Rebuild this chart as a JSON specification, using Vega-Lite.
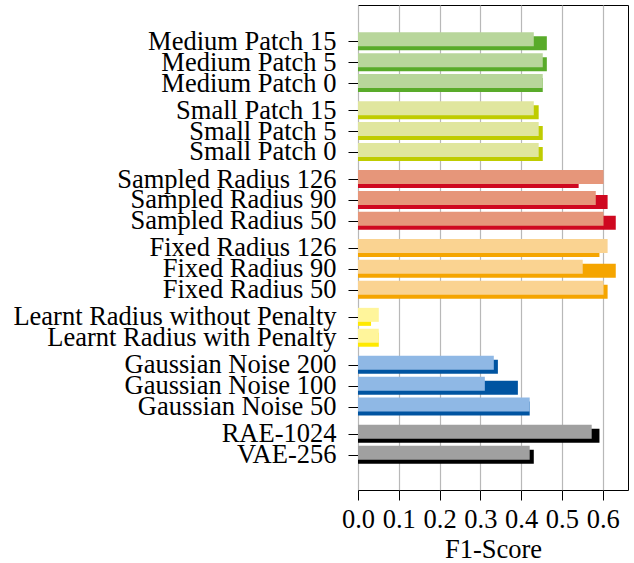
{
  "$schema": "https://vega.github.io/schema/vega-lite/v6.json",
  "autosize": {"type": "none"},
  "padding": {"left": 358, "top": 5, "right": 6, "bottom": 73},
  "width": 270,
  "height": 485,
  "background": "white",
  "config": {
    "view": {"stroke": "black", "strokeWidth": 1},
    "font": "Liberation Serif",
    "axis": {"labelFont": "Liberation Serif", "titleFont": "Liberation Serif", "labelColor": "black", "titleColor": "black", "tickColor": "black", "domainColor": "black"}
  },
  "data": {
    "values": [
      {"name": "Medium Patch 15", "pos": 19.8, "group": "Medium Patch", "v1": 0.431, "v2": 0.463},
      {"name": "Medium Patch 5", "pos": 18.8, "group": "Medium Patch", "v1": 0.453, "v2": 0.463},
      {"name": "Medium Patch 0", "pos": 17.8, "group": "Medium Patch", "v1": 0.453, "v2": 0.453},
      {"name": "Small Patch 15", "pos": 16.5, "group": "Small Patch", "v1": 0.431, "v2": 0.443},
      {"name": "Small Patch 5", "pos": 15.5, "group": "Small Patch", "v1": 0.443, "v2": 0.453},
      {"name": "Small Patch 0", "pos": 14.5, "group": "Small Patch", "v1": 0.443, "v2": 0.453},
      {"name": "Sampled Radius 126", "pos": 13.2, "group": "Sampled Radius", "v1": 0.602, "v2": 0.541},
      {"name": "Sampled Radius 90", "pos": 12.2, "group": "Sampled Radius", "v1": 0.583, "v2": 0.612},
      {"name": "Sampled Radius 50", "pos": 11.2, "group": "Sampled Radius", "v1": 0.602, "v2": 0.632},
      {"name": "Fixed Radius 126", "pos": 9.9, "group": "Fixed Radius", "v1": 0.612, "v2": 0.592},
      {"name": "Fixed Radius 90", "pos": 8.9, "group": "Fixed Radius", "v1": 0.551, "v2": 0.632},
      {"name": "Fixed Radius 50", "pos": 7.9, "group": "Fixed Radius", "v1": 0.602, "v2": 0.612},
      {"name": "Learnt Radius without Penalty", "pos": 6.6, "group": "Learnt Radius", "v1": 0.051, "v2": 0.032},
      {"name": "Learnt Radius with Penalty", "pos": 5.6, "group": "Learnt Radius", "v1": 0.051, "v2": 0.051},
      {"name": "Gaussian Noise 200", "pos": 4.3, "group": "Gaussian Noise", "v1": 0.333, "v2": 0.343},
      {"name": "Gaussian Noise 100", "pos": 3.3, "group": "Gaussian Noise", "v1": 0.311, "v2": 0.392},
      {"name": "Gaussian Noise 50", "pos": 2.3, "group": "Gaussian Noise", "v1": 0.421, "v2": 0.421},
      {"name": "RAE-1024", "pos": 1, "group": "Autoencoder", "v1": 0.573, "v2": 0.592},
      {"name": "VAE-256", "pos": 0, "group": "Autoencoder", "v1": 0.421, "v2": 0.431}
    ]
  },
  "encoding": {
    "y": {
      "field": "pos",
      "type": "quantitative",
      "scale": {"domain": [-1.455, 21.3], "nice": false, "zero": false},
      "axis": {
        "title": null,
        "grid": false,
        "values": [19.8, 18.8, 17.8, 16.5, 15.5, 14.5, 13.2, 12.2, 11.2, 9.9, 8.9, 7.9, 6.6, 5.6, 4.3, 3.3, 2.3, 1, 0],
        "labelExpr": "datum.value == 19.8 ? 'Medium Patch 15' : datum.value == 18.8 ? 'Medium Patch 5' : datum.value == 17.8 ? 'Medium Patch 0' : datum.value == 16.5 ? 'Small Patch 15' : datum.value == 15.5 ? 'Small Patch 5' : datum.value == 14.5 ? 'Small Patch 0' : datum.value == 13.2 ? 'Sampled Radius 126' : datum.value == 12.2 ? 'Sampled Radius 90' : datum.value == 11.2 ? 'Sampled Radius 50' : datum.value == 9.9 ? 'Fixed Radius 126' : datum.value == 8.9 ? 'Fixed Radius 90' : datum.value == 7.9 ? 'Fixed Radius 50' : datum.value == 6.6 ? 'Learnt Radius without Penalty' : datum.value == 5.6 ? 'Learnt Radius with Penalty' : datum.value == 4.3 ? 'Gaussian Noise 200' : datum.value == 3.3 ? 'Gaussian Noise 100' : datum.value == 2.3 ? 'Gaussian Noise 50' : datum.value == 1 ? 'RAE-1024' : 'VAE-256'",
        "labelFontSize": 26.5,
        "labelPadding": 12,
        "labelLimit": 0,
        "tickSize": 10,
        "labelOverlap": false,
        "labelBound": false,
        "labelFlush": false,
        "domain": false
      }
    }
  },
  "layer": [
    {
      "mark": {"type": "bar", "orient": "horizontal", "height": 14, "yOffset": 2},
      "encoding": {
        "x": {
          "field": "v2",
          "type": "quantitative",
          "scale": {"domain": [0, 0.662], "nice": false},
          "axis": {
            "title": "F1-Score",
            "titleFontSize": 26.5,
            "titleFontWeight": "normal",
            "titlePadding": 4,
            "labelFontSize": 26.5,
            "labelPadding": 6,
            "tickSize": 10,
            "values": [0, 0.1, 0.2, 0.3, 0.4, 0.5, 0.6],
            "format": ".1f",
            "labelFlush": false,
            "labelOverlap": false,
            "grid": true,
            "gridColor": "#b8b8b8",
            "gridWidth": 1.2,
            "domain": false
          }
        },
        "color": {
          "field": "group",
          "type": "nominal",
          "legend": null,
          "scale": {
            "domain": ["Medium Patch", "Small Patch", "Sampled Radius", "Fixed Radius", "Learnt Radius", "Gaussian Noise", "Autoencoder"],
            "range": ["#59ab2a", "#bfcc00", "#cf0820", "#f5a500", "#ffe900", "#0054a1", "#000000"]
          }
        }
      }
    },
    {
      "mark": {"type": "bar", "orient": "horizontal", "height": 14, "yOffset": -2},
      "encoding": {
        "x": {"field": "v1", "type": "quantitative"},
        "color": {
          "field": "group",
          "type": "nominal",
          "legend": null,
          "scale": {
            "domain": ["Medium Patch", "Small Patch", "Sampled Radius", "Fixed Radius", "Learnt Radius", "Gaussian Noise", "Autoencoder"],
            "range": ["#b8d69b", "#e0e69e", "#e6967a", "#fad391", "#fff59b", "#8fb8e5", "#a0a0a0"]
          }
        }
      }
    }
  ],
  "resolve": {"scale": {"color": "independent"}}
}
